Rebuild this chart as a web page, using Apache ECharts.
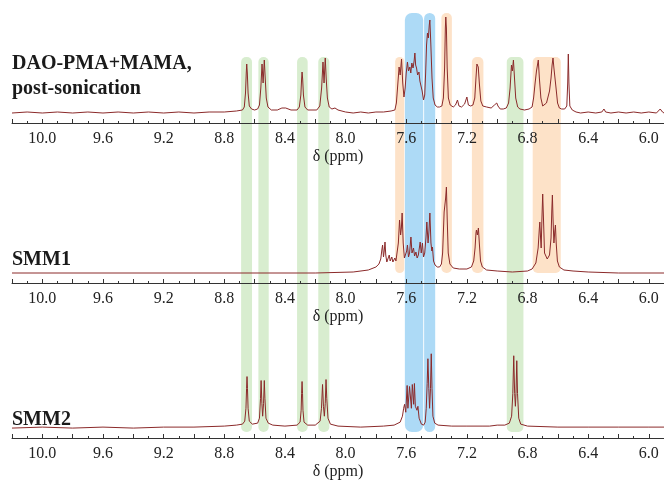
<!doctype html>
<html>
<head>
    <meta charset="utf-8">
    <title>1H NMR</title>
    <script src="https://cdn.jsdelivr.net/npm/echarts@6/dist/echarts.min.js"></script>
    <style>
        html, body { margin: 0; padding: 0; background: #fff; }
        #chart { width: 664px; height: 481px; }
    </style>
</head>
<body>
<div id="chart"></div>
<script>
    // tick positions (ppm)
    var tickLabels = [10.0, 9.6, 9.2, 8.8, 8.4, 8.0, 7.6, 7.2, 6.8, 6.4, 6.0];
    var majorTicks = [10.2, 10.0, 9.8, 9.6, 9.4, 9.2, 9.0, 8.8, 8.6, 8.4, 8.2, 8.0, 7.8, 7.6, 7.4, 7.2, 7.0, 6.8, 6.6, 6.4, 6.2, 6.0];
    var minorTicks = [10.1, 9.9, 9.7, 9.5, 9.3, 9.1, 8.9, 8.7, 8.5, 8.3, 8.1, 7.9, 7.7, 7.5, 7.3, 7.1, 6.9, 6.7, 6.5, 6.3, 6.1, 5.9];

    var panelNames = ['DAO-PMA+MAMA,\npost-sonication', 'SMM1', 'SMM2'];

    // highlighted ppm ranges
    var greenBands = [[8.689, 8.617], [8.575, 8.507], [8.320, 8.250], [8.180, 8.107], [6.937, 6.827]];
    var blueBands = [[7.609, 7.488], [7.482, 7.409]];
    var orangeBands = [[7.673, 7.613], [7.368, 7.299], [7.167, 7.091], [6.766, 6.581]];
    var orangeTall = [false, true, false, false];

    // spectra: [ppm, intensity]
    var daoPma = [
        [10.2,0],[10.1,1],[10.0,0],[9.9,1],[9.8,0],[9.7,1],[9.6,0],[9.5,1],[9.4,0],[9.3,1],[9.2,0],[9.1,1],[9.0,0],[8.9,1],[8.8,1],[8.72,2],
        [8.68,3],[8.668,6],[8.660,20],[8.655,40],[8.652,49],[8.648,40],[8.643,20],[8.635,7],[8.62,4],[8.60,3],
        [8.58,4],[8.568,8],[8.559,25],[8.551,49],[8.544,30],[8.536,53],[8.530,35],[8.523,15],[8.512,6],[8.49,3],
        [8.45,3],[8.42,5],[8.408,7],[8.395,5],[8.36,3],
        [8.32,3],[8.305,6],[8.295,18],[8.290,34],[8.287,41],[8.283,34],[8.278,18],[8.268,6],[8.25,3],
        [8.19,3],[8.170,7],[8.158,25],[8.149,51],[8.142,30],[8.134,55],[8.128,35],[8.120,15],[8.108,6],[8.09,4],[8.07,5],[8.05,3],
        [8.0,1],[7.95,0],[7.9,1],[7.85,0],[7.8,1],[7.75,1],[7.70,2],
        [7.675,3],[7.665,10],[7.655,30],[7.647,46],[7.640,38],[7.631,54],[7.623,30],[7.615,16],
        [7.607,25],[7.600,40],[7.592,51],[7.585,42],[7.576,46],[7.570,40],[7.563,50],[7.555,45],[7.548,52],[7.543,60],[7.538,48],
        [7.532,45],[7.525,38],[7.516,41],[7.510,32],[7.503,33],[7.495,22],[7.486,13],[7.478,18],
        [7.472,40],[7.466,68],[7.460,80],[7.454,75],[7.448,88],[7.444,93],[7.438,70],[7.430,35],[7.422,15],[7.410,8],[7.395,6],[7.38,6],
        [7.365,7],[7.355,15],[7.347,45],[7.342,85],[7.339,96],[7.335,85],[7.330,45],[7.322,15],[7.31,8],[7.29,6],
        [7.275,8],[7.262,13],[7.252,7],[7.235,6],[7.215,9],[7.200,16],[7.190,8],[7.175,7],
        [7.160,8],[7.148,15],[7.140,35],[7.134,49],[7.130,51],[7.125,46],[7.118,30],[7.108,12],[7.095,7],[7.07,6],[7.04,5],
        [7.018,8],[7.010,10],[7.003,10],[6.995,7],[6.98,4],[6.96,4],[6.94,5],
        [6.925,10],[6.915,25],[6.906,48],[6.900,42],[6.893,53],[6.886,35],[6.878,15],[6.865,6],[6.85,4],[6.82,3],[6.79,4],[6.77,6],
        [6.760,15],[6.750,30],[6.741,42],[6.736,40],[6.729,53],[6.722,35],[6.712,15],[6.700,7],[6.688,6],[6.675,10],[6.665,16],
        [6.655,22],[6.645,35],[6.638,48],[6.632,55],[6.626,45],[6.619,43],[6.612,25],[6.602,10],[6.59,5],[6.575,4],[6.555,4],
        [6.541,7],[6.535,30],[6.531,59],[6.527,30],[6.521,7],[6.505,3],[6.48,1],[6.45,0],[6.40,1],[6.35,0],[6.31,1],[6.296,4],[6.285,1],
        [6.25,0],[6.20,1],[6.15,0],[6.10,1],[6.05,0],[6.0,1],[5.95,0],[5.925,4],[5.91,1],[5.9,0]
    ];

    var smm1 = [
        [10.2,0],[9.0,0],[8.2,0],[7.95,1],[7.85,3],[7.80,6],[7.78,9],
        [7.768,14],[7.760,24],[7.756,28],[7.750,16],[7.745,22],[7.740,31],[7.735,18],[7.728,11],
        [7.718,13],[7.712,18],[7.706,12],[7.700,12],[7.695,16],[7.688,11],[7.682,12],[7.675,15],[7.668,12],[7.660,14],
        [7.652,30],[7.644,53],[7.637,38],[7.632,45],[7.627,60],[7.620,30],[7.612,15],[7.604,13],
        [7.597,22],[7.592,28],[7.585,16],[7.578,20],[7.569,36],[7.562,20],[7.557,18],[7.552,25],[7.545,17],[7.536,21],[7.528,15],
        [7.520,18],[7.508,31],[7.501,20],[7.493,30],[7.486,16],[7.478,20],
        [7.470,35],[7.464,51],[7.456,30],[7.450,42],[7.444,60],[7.437,30],[7.431,22],[7.427,26],[7.420,12],[7.410,8],[7.395,6],[7.38,6],
        [7.368,9],[7.360,20],[7.354,45],[7.350,61],[7.345,60],[7.340,75],[7.335,86],[7.330,55],[7.323,20],[7.312,9],[7.29,5],
        [7.25,4],[7.20,4],[7.17,6],
        [7.155,12],[7.146,25],[7.140,40],[7.137,43],[7.131,38],[7.124,45],[7.118,30],[7.110,12],[7.098,6],[7.07,3],[7.0,2],
        [6.9,1],[6.8,2],[6.77,4],[6.745,10],
        [6.730,25],[6.722,45],[6.719,51],[6.714,35],[6.710,25],[6.705,55],[6.700,79],[6.695,55],[6.688,20],[6.670,14],
        [6.655,18],[6.645,35],[6.640,62],[6.636,78],[6.632,55],[6.626,30],[6.620,42],[6.616,48],[6.611,30],[6.603,12],[6.590,6],
        [6.56,3],[6.50,2],[6.4,1],[6.2,0],[5.9,0]
    ];

    var smm2 = [
        [10.2,0],[10.0,1],[9.8,0],[9.6,1],[9.4,0],[9.2,1],[9.0,1],[8.8,2],[8.72,3],
        [8.68,4],[8.665,7],[8.657,20],[8.653,40],[8.650,52],[8.647,40],[8.643,20],[8.635,7],[8.615,4],
        [8.58,5],[8.568,10],[8.561,30],[8.557,48],[8.552,25],[8.547,12],[8.541,25],[8.536,48],[8.532,30],[8.525,10],[8.51,5],[8.48,3],
        [8.40,2],[8.32,3],
        [8.30,6],[8.293,18],[8.290,35],[8.287,47],[8.284,35],[8.281,18],[8.274,6],[8.25,3],[8.20,3],
        [8.168,7],[8.159,20],[8.152,44],[8.146,22],[8.140,12],[8.134,25],[8.129,49],[8.124,30],[8.116,10],[8.10,4],[8.05,2],
        [7.9,1],[7.75,2],[7.68,3],[7.64,6],[7.625,12],
        [7.617,20],[7.611,24],[7.603,16],[7.594,43],[7.589,20],[7.583,18],[7.578,42],[7.572,43],[7.566,20],[7.560,44],[7.556,43],
        [7.551,24],[7.546,45],[7.540,22],[7.534,24],[7.529,18],[7.523,22],[7.515,10],[7.500,4],[7.485,3],[7.475,6],
        [7.468,20],[7.462,45],[7.457,70],[7.451,40],[7.446,20],[7.440,40],[7.435,75],[7.430,40],[7.424,12],[7.412,5],[7.39,3],
        [7.3,2],[7.2,2],[7.1,2],[7.05,2],[7.0,3],[6.95,3],[6.92,5],
        [6.905,12],[6.897,35],[6.891,73],[6.885,35],[6.880,22],[6.876,35],[6.871,68],[6.866,35],[6.858,10],[6.845,4],
        [6.80,2],[6.6,1],[6.4,1],[6.2,1],[6.0,1],[5.9,1]
    ];

    var spectra = [daoPma, smm1, smm2];

    var PPM_MIN = 5.9, PPM_MAX = 10.2;
    var serif = '"Liberation Serif", "Times New Roman", serif';
    var lineColor = '#8b2a2a';
    var panelTops = [13, 173, 329];

    var myChart = echarts.init(document.getElementById('chart'), null, {renderer: 'canvas'});

    var grids = [], xAxes = [], yAxes = [], series = [], graphics = [];

    panelTops.forEach(function (top, i) {
        grids.push({left: 12, right: 0, top: top, height: 110});
        yAxes.push({type: 'value', gridIndex: i, min: -10, max: 100, show: false});
        xAxes.push({
            type: 'value', gridIndex: i, position: 'bottom', min: PPM_MIN, max: PPM_MAX, inverse: true,
            name: 'δ (ppm)', nameLocation: 'middle', nameGap: 26,
            nameTextStyle: {fontFamily: serif, fontSize: 16, color: '#222'},
            axisLine: {show: true, onZero: false, lineStyle: {color: '#333', width: 1}},
            axisTick: {show: true, inside: true, length: 4, customValues: majorTicks, lineStyle: {color: '#333'}},
            axisLabel: {
                customValues: tickLabels, margin: 8, fontFamily: serif, fontSize: 16, color: '#222',
                formatter: function (v) { return v.toFixed(1); }
            },
            splitLine: {show: false}
        });
        series.push({
            type: 'line', xAxisIndex: i, yAxisIndex: i, data: spectra[i],
            showSymbol: false, smooth: false, z: 3,
            lineStyle: {color: lineColor, width: 1}
        });
    });

    // minor ticks
    panelTops.forEach(function (top, i) {
        xAxes.push({
            type: 'value', gridIndex: i, position: 'bottom', offset: 0, min: PPM_MIN, max: PPM_MAX, inverse: true,
            axisLine: {show: false, onZero: false},
            axisTick: {show: true, inside: true, length: 2, customValues: minorTicks, lineStyle: {color: '#333'}},
            axisLabel: {show: false},
            splitLine: {show: false}
        });
    });

    // overlay grid for the highlight bands (y in pixels)
    grids.push({left: 12, right: 0, top: 0, height: 481});
    xAxes.push({type: 'value', gridIndex: 3, min: PPM_MIN, max: PPM_MAX, inverse: true, show: false});
    yAxes.push({type: 'value', gridIndex: 3, min: 0, max: 481, inverse: true, show: false});

    var bandData = [];
    greenBands.forEach(function (b) { bandData.push([b[0], b[1], 0]); });
    blueBands.forEach(function (b) { bandData.push([b[0], b[1], 1]); });
    orangeBands.forEach(function (b, k) { bandData.push([b[0], b[1], orangeTall[k] ? 3 : 2]); });

    var bandColors = ['#d8edcf', '#addaf6', '#fde2c8', '#fde2c8'];
    var bandTop = [57, 13, 57, 13];
    var bandBottom = [432, 432, 273, 273];

    series.push({
        type: 'custom', xAxisIndex: 6, yAxisIndex: 3, z: -5, silent: true,
        data: bandData, encode: {x: [0, 1]},
        renderItem: function (params, api) {
            var k = api.value(2);
            var p1 = api.coord([api.value(0), bandTop[k]]);
            var p2 = api.coord([api.value(1), bandBottom[k]]);
            var r = k === 1 ? 7 : 5;
            return {
                type: 'rect',
                shape: {x: p1[0], y: p1[1], width: p2[0] - p1[0], height: p2[1] - p1[1], r: r},
                style: {fill: bandColors[k]}
            };
        }
    });

    var nameTops = [51, 247, 407];
    panelNames.forEach(function (n, i) {
        graphics.push({
            type: 'text', left: 12, top: nameTops[i], z: 10,
            style: {text: n, font: 'bold 20px ' + serif, fill: '#1a1a1a', lineHeight: 25}
        });
    });

    option = {
        animation: false,
        backgroundColor: '#fff',
        grid: grids,
        xAxis: xAxes,
        yAxis: yAxes,
        series: series,
        graphic: graphics
    };

    myChart.setOption(option);
</script>
</body>
</html>
